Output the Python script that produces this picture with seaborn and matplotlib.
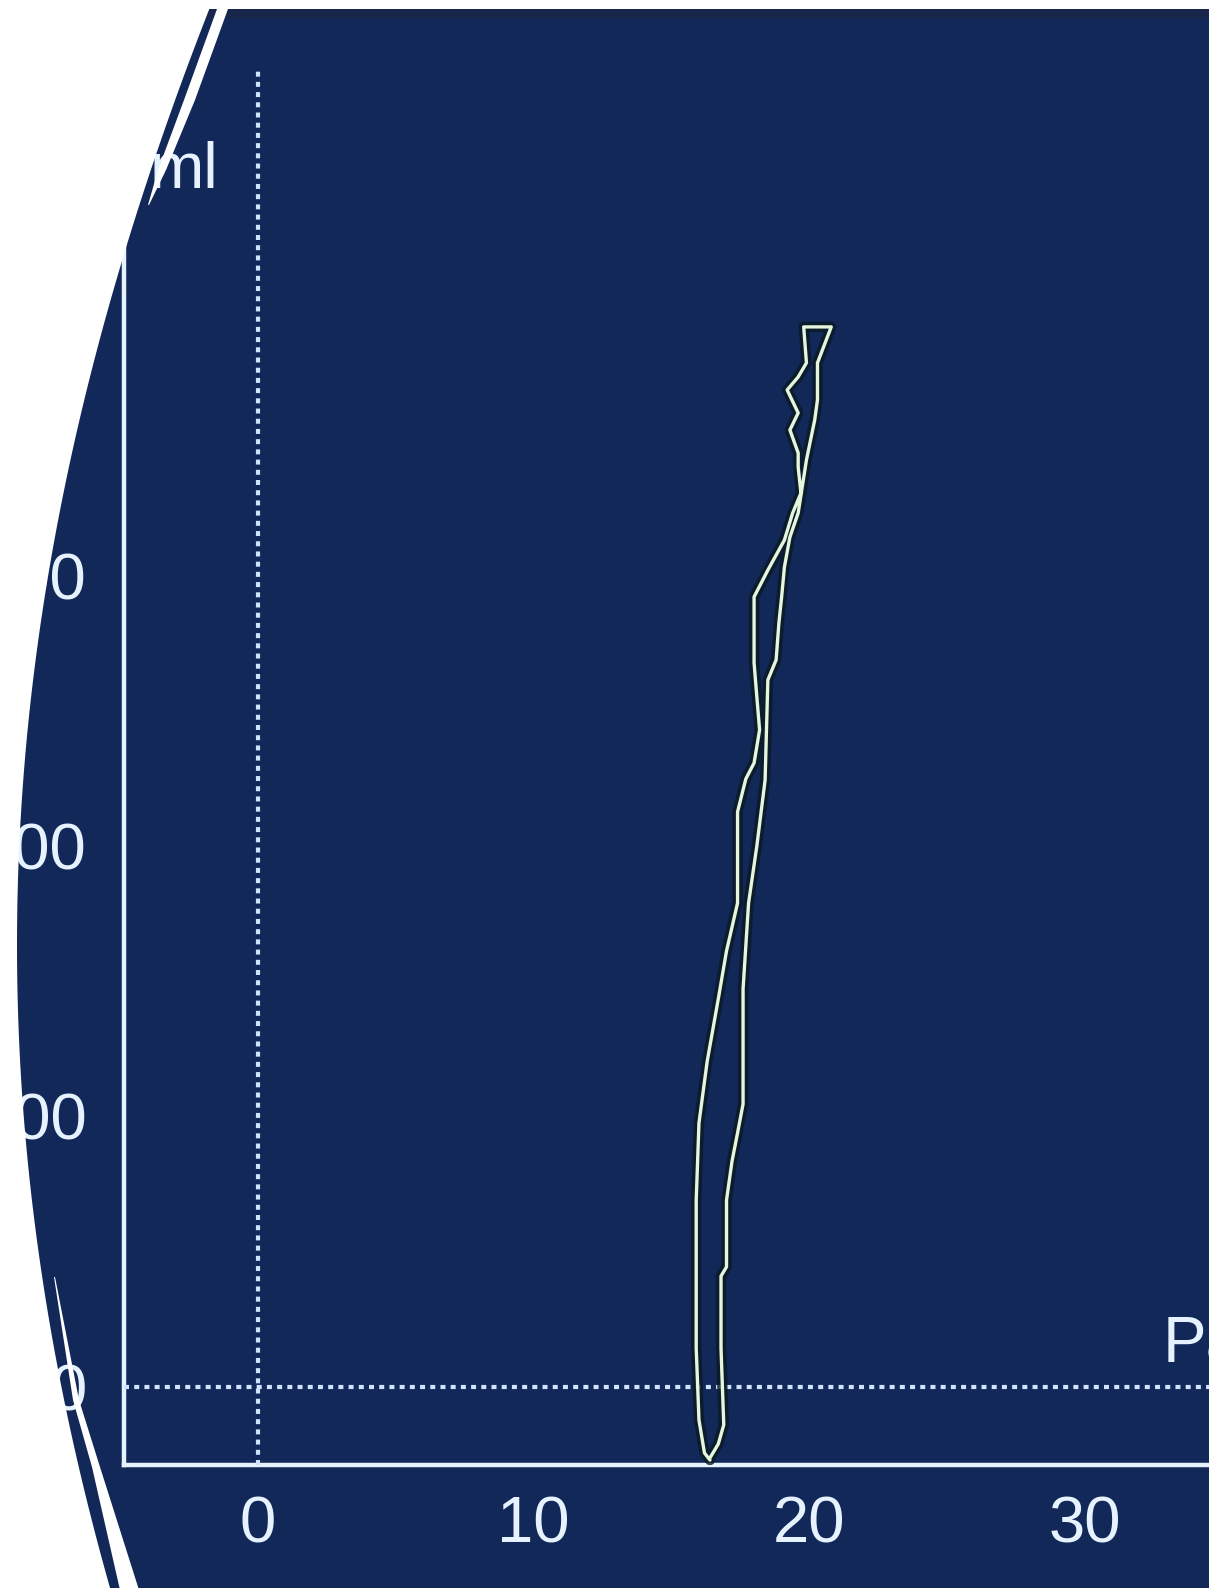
import numpy as np
import matplotlib
matplotlib.use("Agg")
import matplotlib.pyplot as plt
import matplotlib.patheffects as pe
from matplotlib import font_manager as fm
from matplotlib.patches import Polygon, Rectangle
import seaborn as sns

# ---------------- data (pressure cmH2O vs volume ml) ----------------
pressure_up = [16.4, 16.2, 16.0, 15.9, 15.9, 16.0, 16.3, 16.7, 17.0, 17.4, 17.4, 17.7,
               18.0, 18.2, 18.1, 18.0, 18.0, 18.0, 18.5, 19.1, 19.4, 19.7, 19.6, 19.6,
               19.3, 19.6, 19.2, 19.6, 19.9, 19.8, 20.8]
volume_up = [-27.0, -24.4, -12.2, 14.4, 69.1, 97.6, 120.5, 143.4, 161.2, 178.9, 212.6, 224.8,
             230.7, 242.9, 255.1, 267.7, 286.1, 292.1, 302.0, 313.1, 323.1, 330.5, 340.1, 345.3,
             353.8, 360.1, 368.6, 373.4, 378.6, 391.9, 391.9]
pressure_down = [20.8, 20.3, 20.3, 20.2, 19.9, 19.6, 19.3, 19.1, 19.0, 18.9, 18.8, 18.5,
                 18.4, 18.1, 17.8, 17.6, 17.6, 17.4, 17.2, 17.0, 17.0, 16.8, 16.8, 16.9,
                 16.7, 16.4]
volume_down = [391.9, 378.6, 364.9, 357.5, 342.7, 323.1, 314.2, 303.1, 292.1, 282.4, 268.8, 261.4,
               224.4, 200.0, 178.9, 147.1, 104.6, 93.9, 83.5, 69.1, 44.4, 41.0, 14.4, -14.0,
               -21.1, -26.2]
x_ticks = [0, 10, 20, 30]
x_tick_labels = ["0", "10", "20", "30"]
y_ticks = [-25, 0, 100, 200, 300, 400]
y_tick_labels = ["", "0", "100", "200", "300", "400"]
y_unit = "ml"
x_unit = "Paw"

# ---------------- style ----------------
NAVY = "#122858"
FG = "#e6f3ff"
LOOP = "#e6f6dc"

sns.set_theme(style="white")
names = {f.name for f in fm.fontManager.ttflist}
if "Liberation Sans Narrow" in names:
    FONT = ["Liberation Sans Narrow", "DejaVu Sans"]
else:
    FONT = ["Liberation Sans", "DejaVu Sans"]
plt.rcParams["font.family"] = FONT

W_PX, H_PX = 1209, 1588
fig = plt.figure(figsize=(W_PX / 100, H_PX / 100), dpi=100)
fig.patch.set_facecolor(NAVY)

# axes geometry (pixels)
ax_left, ax_bottom_px, ax_top_px = 124, 1465, 243
x0_px, xscale = 258, 27.56
y0_px, yscale = 1387, 2.705
ax = fig.add_axes([ax_left / W_PX, (H_PX - ax_bottom_px) / H_PX,
                   1 - ax_left / W_PX, (ax_bottom_px - ax_top_px) / H_PX])
ax.set_facecolor(NAVY)
xlim = ((ax_left - x0_px) / xscale, (W_PX - x0_px) / xscale)
ylim = ((y0_px - ax_bottom_px) / yscale, (y0_px - ax_top_px) / yscale)

loop_p = pressure_up + pressure_down
loop_v = volume_up + volume_down
sns.lineplot(x=loop_p, y=loop_v, sort=False, estimator=None, ax=ax,
             color=LOOP, linewidth=2.4, zorder=5,
             path_effects=[pe.Stroke(linewidth=7.5, foreground="#0a1a24", alpha=0.8), pe.Normal()])

# dotted zero lines
ax.axhline(0, color="#d0e4ff", lw=3.0, linestyle=(0, (1.2, 1.25)), zorder=3)
y_dot_top = (y0_px - 70) / yscale
ax.plot([0, 0], [ylim[0], y_dot_top], color="#d0e4ff", lw=3.0,
        linestyle=(0, (1.2, 1.25)), clip_on=False, zorder=3)

ax.set_xlim(*xlim)
ax.set_ylim(*ylim)
for s in ["top", "right"]:
    ax.spines[s].set_visible(False)
for s in ["left", "bottom"]:
    ax.spines[s].set_color(FG)
    ax.spines[s].set_linewidth(3.2)
ax.set_xticks(x_ticks)
ax.set_xticklabels(x_tick_labels)
ax.set_yticks(y_ticks)
ax.set_yticklabels(y_tick_labels)
ax.tick_params(axis="both", direction="out", length=17, width=3.0, color=FG,
               labelcolor=FG, labelsize=47)
ax.tick_params(axis="x", pad=5)
ax.tick_params(axis="y", pad=10)
ax.grid(False)

# ---------------- overlay: screen bezel ----------------
ov = fig.add_axes([0, 0, 1, 1], zorder=10)
ov.set_xlim(0, W_PX)
ov.set_ylim(H_PX, 0)
ov.axis("off")
ov.patch.set_alpha(0)

ov.text(218, 188, y_unit, ha="right", va="baseline", color=FG, fontsize=47, zorder=1)
ov.text(1163, 1362, x_unit, ha="left", va="baseline", color=FG, fontsize=47, zorder=1)

# thin darker band at the top of the screen
ov.add_patch(Rectangle((0, 9), W_PX, 10, color="#18264c", zorder=0.5, lw=0))


def bezel_x(y):
    dy = np.asarray(y, dtype=float) - 945.0
    return 17.0 + 2.3e-4 * dy ** 2 - 1.2e-11 * dy ** 4


yy = np.linspace(-5, H_PX + 5, 600)
xx = bezel_x(yy)
outer = [(-10, -10)] + list(zip(xx, yy)) + [(-10, H_PX + 10)]
ov.add_patch(Polygon(outer, closed=True, color="white", lw=0, zorder=2))
ov.add_patch(Rectangle((0, -5), W_PX, 14, color="white", lw=0, zorder=2))

# inner reflection lines of the bezel
top_l_y = [0, 9, 100, 170, 205]
top_l_x = [221, 217, 184, 158, 148]
top_r_y = [205, 170, 100, 9, 0]
top_r_x = [149, 166, 195, 228, 232]
ov.add_patch(Polygon(list(zip(top_l_x, top_l_y)) + list(zip(top_r_x, top_r_y)),
                     closed=True, color="white", lw=0, zorder=2))
bot_l_y = [1277, 1400, 1467, 1590]
bot_l_x = [54, 73, 92, 120]
bot_r_y = [1590, 1467, 1400, 1277]
bot_r_x = [139, 100, 79, 55]
ov.add_patch(Polygon(list(zip(bot_l_x, bot_l_y)) + list(zip(bot_r_x, bot_r_y)),
                     closed=True, color="white", lw=0, zorder=2))

fig.savefig("out.png", dpi=100, facecolor=fig.get_facecolor())
